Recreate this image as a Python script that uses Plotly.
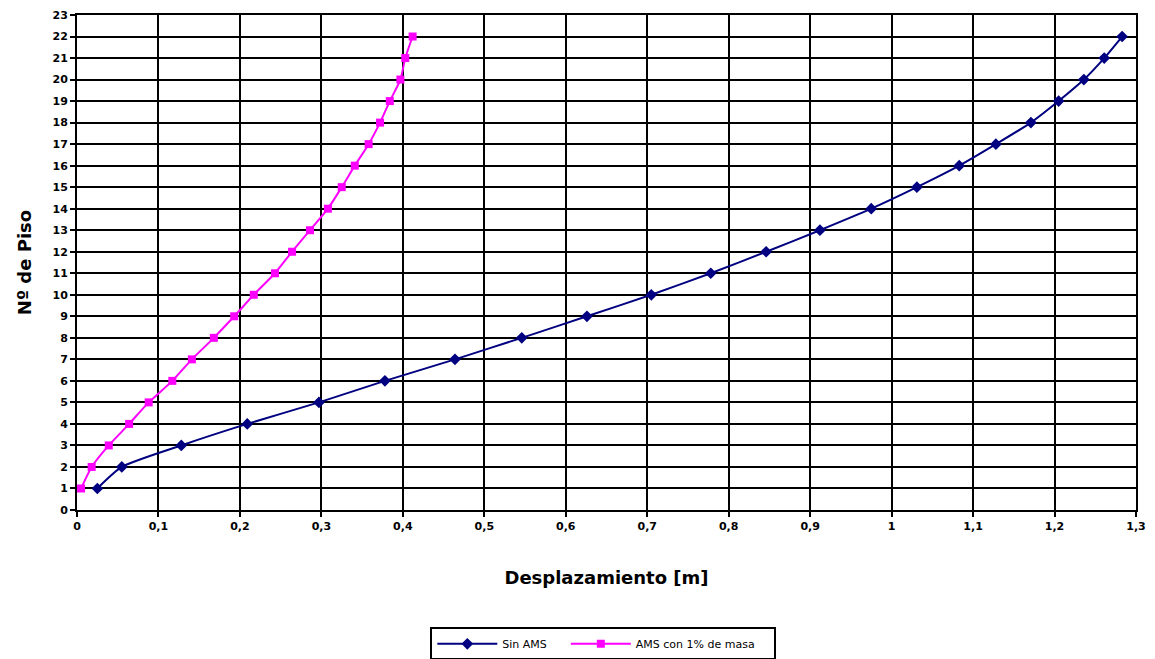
import plotly.graph_objects as go

pisos = list(range(1, 23))
sin_ams = [0.025, 0.055, 0.128, 0.209, 0.297, 0.378, 0.464, 0.546, 0.626, 0.705,
           0.778, 0.846, 0.912, 0.975, 1.031, 1.083, 1.128, 1.171, 1.205, 1.236,
           1.261, 1.283]
ams_1 = [0.005, 0.018, 0.039, 0.064, 0.088, 0.117, 0.141, 0.168, 0.193, 0.217,
         0.243, 0.264, 0.286, 0.308, 0.325, 0.341, 0.358, 0.372, 0.384, 0.397,
         0.403, 0.412]
series_names = ["Sin AMS    ", "AMS con 1% de masa    "]

fig = go.Figure()
fig.add_trace(go.Scatter(
    x=sin_ams, y=pisos, name=series_names[0], mode="lines+markers",
    line=dict(color="#000080", width=2, shape="spline", smoothing=0.6),
    marker=dict(symbol="diamond", size=9, color="#000080"),
))
fig.add_trace(go.Scatter(
    x=ams_1, y=pisos, name=series_names[1], mode="lines+markers",
    line=dict(color="#FF00FF", width=2, shape="spline", smoothing=0.6),
    marker=dict(symbol="square", size=8, color="#FF00FF"),
))

axis_common = dict(
    showgrid=True, gridcolor="black", gridwidth=2,
    showline=True, linecolor="black", linewidth=2, mirror=True,
    ticks="outside", ticklen=5, tickwidth=2, tickcolor="black",
    zeroline=False, automargin=False,
    tickfont=dict(family="DejaVu Sans", size=11, color="black", weight="bold"),
)

fig.update_xaxes(
    range=[0, 1.3], dtick=0.1, tick0=0,
    title=dict(text="<b>Desplazamiento [m]</b>", font=dict(family="DejaVu Sans", size=18, color="black"), standoff=39),
    **axis_common,
)
fig.update_yaxes(
    range=[0, 23], dtick=1, tick0=0,
    title=dict(text="<b>Nº de Piso</b>", font=dict(family="DejaVu Sans", size=18, color="black"), standoff=16),
    **axis_common,
)

fig.update_layout(
    width=1155, height=659,
    margin=dict(l=77, r=19, t=15, b=149),
    paper_bgcolor="white", plot_bgcolor="white",
    separators=", ",
    showlegend=True,
    legend=dict(
        orientation="h", x=0.497, xanchor="center",
        yref="container", y=0.048, yanchor="top",
        bordercolor="black", borderwidth=2, bgcolor="white",
        font=dict(family="DejaVu Sans", size=11, color="black"),
        itemwidth=60,
    ),
)

fig.write_html("out.html")
